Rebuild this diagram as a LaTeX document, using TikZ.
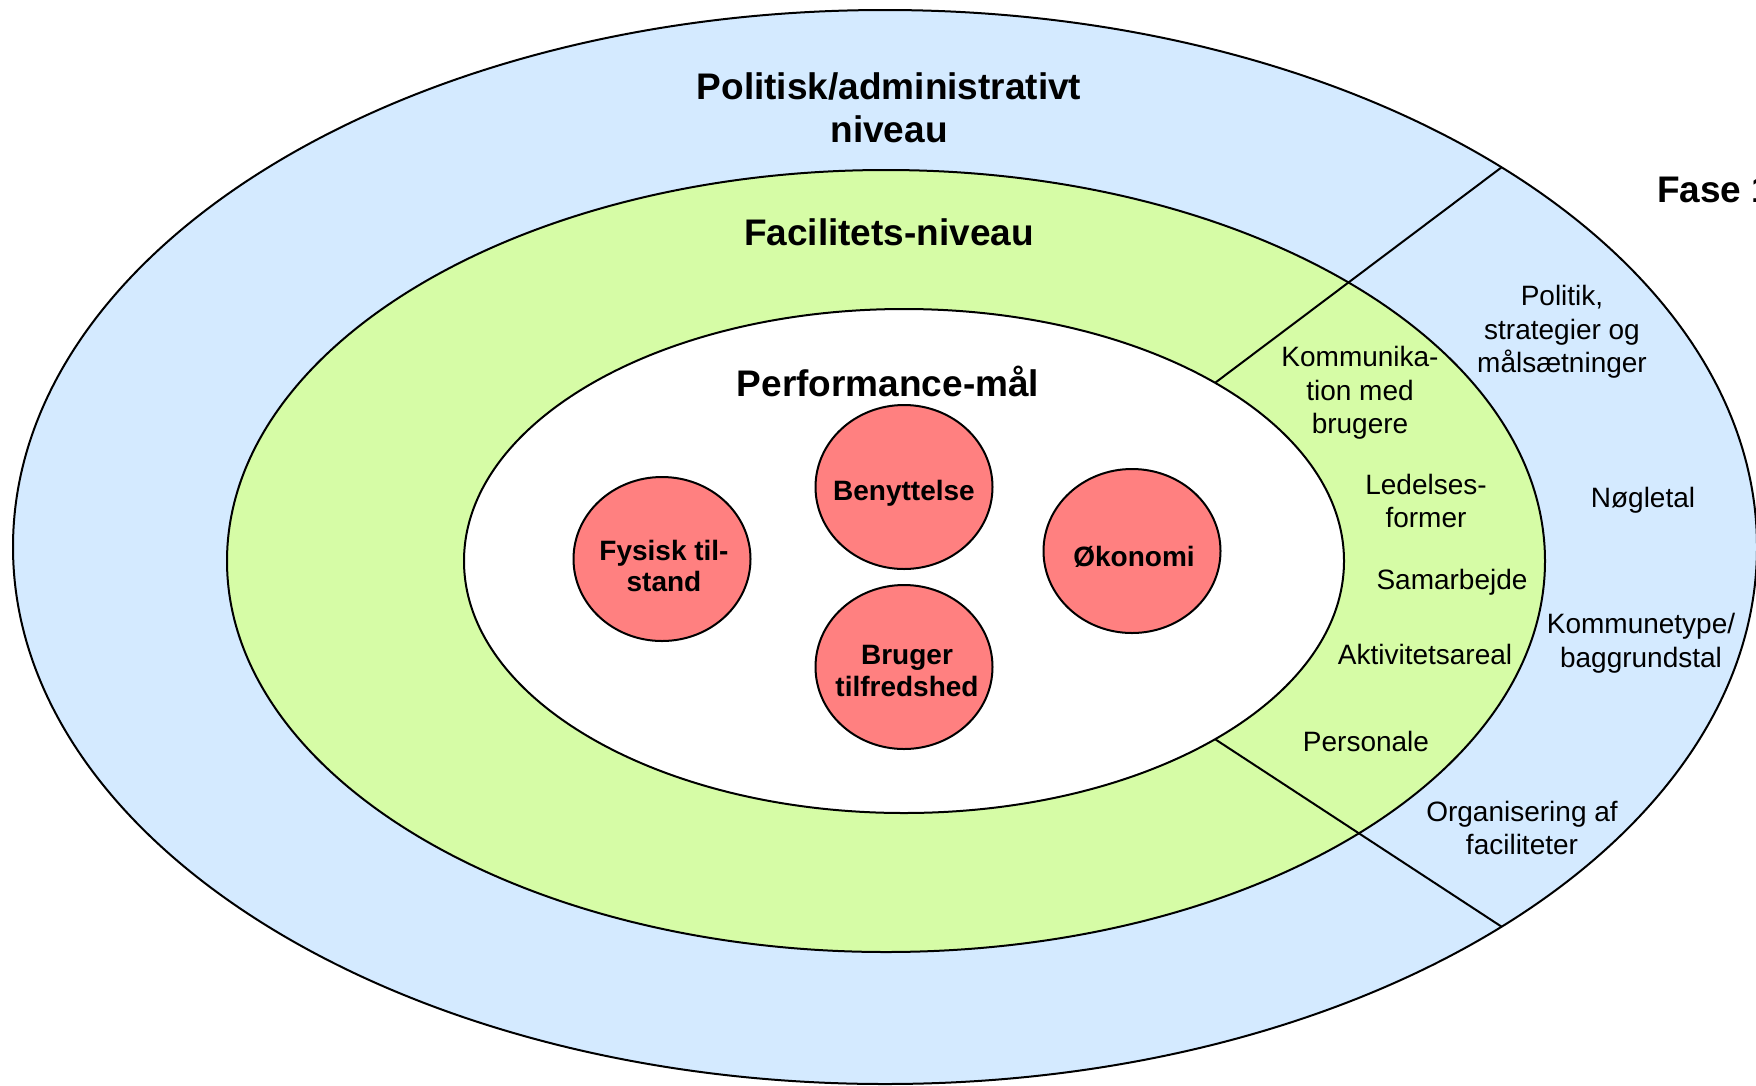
\documentclass[tikz,border=0pt]{standalone}
\usepackage{fontspec}
\setmainfont{Liberation Sans}
\usetikzlibrary{shapes.geometric}
\definecolor{outerblue}{RGB}{212,234,255}
\definecolor{midgreen}{RGB}{214,252,166}
\definecolor{redcirc}{RGB}{255,128,128}
\begin{document}
\begin{tikzpicture}[x=1pt,y=-1pt,
  ring/.style={draw=black,line width=2pt},
  divider/.style={draw=black,line width=2pt},
  bigtitle/.style={font=\bfseries\fontsize{37}{42.5}\selectfont,align=center,inner sep=0},
  smalltxt/.style={font=\fontsize{28}{33.6}\selectfont,align=center,inner sep=0},
  redball/.style={ellipse,draw=black,line width=2pt,fill=redcirc,minimum width=177pt,minimum height=164pt,inner sep=0},
  balltxt/.style={align=center,inner sep=0,font=\bfseries\fontsize{28}{31.5}\selectfont}]
\useasboundingbox (0,0) rectangle (1756,1085);
% rings
\path[ring,fill=outerblue] (885,547) ellipse [x radius=872,y radius=537];
\path[ring,fill=midgreen] (886,561) ellipse [x radius=659,y radius=391];
\path[ring,fill=white] (904,561) ellipse [x radius=440,y radius=252];
% dividers
\coordinate (iu) at (1215.1,382.8);
\coordinate (ou) at (1501.6,167.3);
\coordinate (il) at (1215.1,739.2);
\coordinate (ol) at (1501.6,926.7);
\draw[divider] (iu) -- (ou);
\draw[divider] (il) -- (ol);
% circles
\node[redball] (beny) at (904,487) {};
\node[redball] (fys) at (662,559) {};
\node[redball] (oko) at (1132,551) {};
\node[redball] (brug) at (904,667) {};
\node[balltxt] (benyt) at (904,493) {Benyttelse};
\node[balltxt] (fyst) at (664,566) {Fysisk til-\\stand};
\node[balltxt] (okot) at (1134,557) {Økonomi};
\node[balltxt] (brugt) at (907,671) {Bruger\\tilfredshed};
% titles
\node[bigtitle] (pol) at (889,108) {Politisk/administrativt\\niveau};
\node[bigtitle] (fac) at (889,232) {Facilitets-niveau};
\node[bigtitle] (perf) at (888,381) {Performance-mål};
\node[bigtitle,anchor=base west] (fase) at (1657,202) {Fase 1};
% right labels
\node[smalltxt] (komm) at (1360,393) {Kommunika-\\tion med\\brugere};
\node[smalltxt] (polit) at (1562,332) {Politik,\\strategier og\\målsætninger};
\node[smalltxt] (led) at (1426,501) {Ledelses-\\former};
\node[smalltxt] (nog) at (1643,500) {Nøgletal};
\node[smalltxt] (sam) at (1452,582) {Samarbejde};
\node[smalltxt] (kty) at (1641,643) {Kommunetype/\\baggrundstal};
\node[smalltxt] (akt) at (1425,654) {Aktivitetsareal};
\node[smalltxt] (pers) at (1366,741) {Personale};
\node[smalltxt] (org) at (1522,828) {Organisering af\\faciliteter};
\end{tikzpicture}
\end{document}
